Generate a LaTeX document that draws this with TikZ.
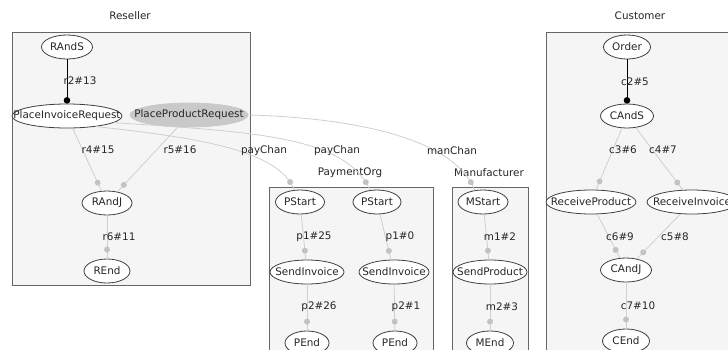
\documentclass[tikz,border=0pt]{standalone}
\usepackage{fontspec}
\setmainfont{DejaVu Sans}
\usepackage{tikz}
\usetikzlibrary{arrows.meta}
\usetikzlibrary{shapes.geometric}
\usetikzlibrary{decorations.markings}
\definecolor{edgegray}{HTML}{CFCFCF}
\definecolor{dotgray}{HTML}{C2C2C2}
\definecolor{clusfill}{HTML}{F5F5F5}
\definecolor{clusline}{HTML}{666666}
\definecolor{prodgray}{HTML}{C9C9C9}

\begin{document}
\begin{tikzpicture}[x=1pt, y=-1pt,
	every node/.style={font=\fontsize{10.4}{12}\selectfont, text=black!85},
	state/.style={ellipse, draw=black!75, fill=white, line width=0.8pt, inner xsep=-15pt, inner ysep=0pt, minimum height=24pt},
	lbl/.style={inner sep=0pt},
	clus/.style={draw=clusline, fill=clusfill, line width=0.8pt},
	ctrl/.style={draw=black, line width=1pt, -{Circle[length=6.5pt]}},
	flow/.style={draw=edgegray, line width=0.8pt, postaction={decorate},
		decoration={markings, mark=at position -9pt with {\fill[dotgray] (0,0) circle (3pt);}}}]
	\useasboundingbox (0,0) rectangle (728,349);
	\clip (0,0) rectangle (728,349);
	% clusters
	\draw[clus] (12,32) rectangle (250,285);
	\draw[clus] (269,187) rectangle (433,360);
	\draw[clus] (452,187) rectangle (528,360);
	\draw[clus] (546,32) rectangle (740,360);
	\node (reseller) at (130,16) {Reseller};
	\node (payorg) at (350,173) {PaymentOrg};
	\node (manuf) at (489,173) {Manufacturer};
	\node (customer) at (640,16) {Customer};
	% Reseller
	\node[state, minimum width=51pt] (rands) at (67,47) {RAndS};
	\node[state, minimum width=110pt] (pir) at (67,116) {PlaceInvoiceRequest};
	\node[state, minimum width=118pt, fill=prodgray, draw=prodgray] (ppr) at (189,115) {PlaceProductRequest};
	\node[state, minimum width=50pt] (randj) at (107,203) {RAndJ};
	\node[state, minimum width=46pt] (rend) at (107,271) {REnd};
	% PaymentOrg
	\node[state, minimum width=49pt] (ps1) at (300,202) {PStart};
	\node[state, minimum width=48pt] (ps2) at (377,202) {PStart};
	\node[state, minimum width=74pt] (si1) at (307,272) {SendInvoice};
	\node[state, minimum width=70pt] (si2) at (394,272) {SendInvoice};
	\node[state, minimum width=44pt] (pe1) at (307,343) {PEnd};
	\node[state, minimum width=44pt] (pe2) at (395,343) {PEnd};
	% Manufacturer
	\node[state, minimum width=50pt] (ms) at (483,202) {MStart};
	\node[state, minimum width=74pt] (sp) at (490,272) {SendProduct};
	\node[state, minimum width=47pt] (me) at (490,343) {MEnd};
	% Customer
	\node[state, minimum width=47pt] (order) at (627,47) {Order};
	\node[state, minimum width=53pt] (cands) at (627,116) {CAndS};
	\node[state, minimum width=90pt] (rp) at (591,202) {ReceiveProduct};
	\node[state, minimum width=90pt] (ri) at (692,202) {ReceiveInvoice};
	\node[state, minimum width=51pt] (candj) at (626,270) {CAndJ};
	\node[state, minimum width=47pt] (cend) at (626,341) {CEnd};
	% edges
	\draw[ctrl] (rands) -- (pir);
	\draw[flow] (pir) -- (randj);
	\draw[flow] (ppr) -- (randj);
	\draw[flow] (randj) -- (rend);
	\draw[flow] (pir.-20) .. controls (200,138) and (278,150) .. (ps1.115);
	\draw[flow] (pir.-8) .. controls (250,132) and (345,135) .. (ps2.120);
	\draw[flow] (ppr.east) .. controls (360,118) and (455,140) .. (ms.125);
	\draw[flow] (ps1) -- (si1);
	\draw[flow] (si1) -- (pe1);
	\draw[flow] (ps2) -- (si2);
	\draw[flow] (si2) -- (pe2);
	\draw[flow] (ms) -- (sp);
	\draw[flow] (sp) -- (me);
	\draw[ctrl] (order) -- (cands);
	\draw[flow] (cands) -- (rp);
	\draw[flow] (cands) -- (ri);
	\draw[flow] (rp) -- (candj);
	\draw[flow] (ri) -- (candj);
	\draw[flow] (candj) -- (cend);
	% edge labels
	\node[lbl] (lr2) at (80,81) {r2\#13};
	\node[lbl] (lr4) at (98,150) {r4\#15};
	\node[lbl] (lr5) at (180,150) {r5\#16};
	\node[lbl] (lr6) at (119,237) {r6\#11};
	\node[lbl] (lpay1) at (264,151) {payChan};
	\node[lbl] (lpay2) at (337,151) {payChan};
	\node[lbl] (lman) at (452,151) {manChan};
	\node[lbl] (lp1a) at (314,237) {p1\#25};
	\node[lbl] (lp1b) at (400,237) {p1\#0};
	\node[lbl] (lp2a) at (319,307) {p2\#26};
	\node[lbl] (lp2b) at (406,307) {p2\#1};
	\node[lbl] (lm1) at (500,237) {m1\#2};
	\node[lbl] (lm2) at (502,307) {m2\#3};
	\node[lbl] (lc2) at (635,82) {c2\#5};
	\node[lbl] (lc3) at (623,150) {c3\#6};
	\node[lbl] (lc4) at (663,150) {c4\#7};
	\node[lbl] (lc6) at (620,237) {c6\#9};
	\node[lbl] (lc5) at (675,237) {c5\#8};
	\node[lbl] (lc7) at (638,306) {c7\#10};
\end{tikzpicture}
\end{document}
